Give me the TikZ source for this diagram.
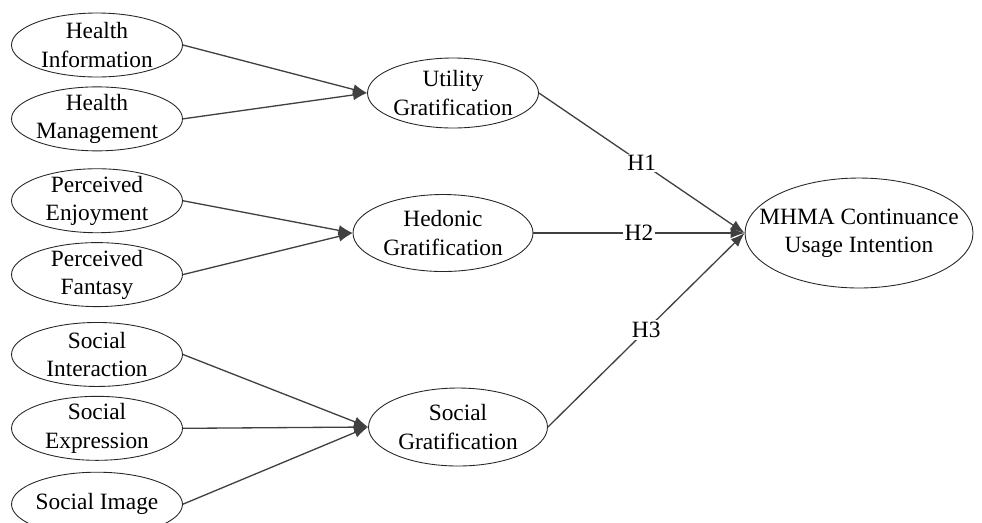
\documentclass[tikz,border=0pt]{standalone}
\usepackage{fontspec}
\setmainfont{Liberation Serif}
\usetikzlibrary{positioning,shapes.geometric,arrows.meta}

\begin{document}
\begin{tikzpicture}[
  x=0.02cm, y=-0.02cm,
  node distance=0.18cm,
  ell/.style={draw=black!85,line width=0.5pt,ellipse,inner sep=-1cm,align=center,
    font=\fontsize{13.3}{16}\selectfont},
  src/.style={ell,minimum width=3.42cm,minimum height=1.28cm},
  grat/.style={ell,minimum width=3.5cm,minimum height=1.45cm},
  arr/.style={draw=black!75,line width=0.75pt,-{Latex[length=8pt,width=6pt]}},
  hyp/.style={fill=white,inner sep=1pt,font=\fontsize{13.3}{16}\selectfont}
]
\useasboundingbox (0,0) rectangle (982,522);

% antecedents
\node[src] (hinfo) at (97,45) {Health\\Information};
\node[src,below=of hinfo] (hmgmt) {Health\\Management};
\node[src,below=0.34cm of hmgmt] (penjoy) {Perceived\\Enjoyment};
\node[src,below=of penjoy] (pfant) {Perceived\\Fantasy};
\node[src,below=0.3cm of pfant] (sinter) {Social\\Interaction};
\node[src,below=of sinter] (sexpr) {Social\\Expression};
\node[src,below=0.22cm of sexpr] (simage) {Social Image};

% gratifications
\node[grat,minimum width=3.42cm,minimum height=1.4cm] (util) at (453,93) {Utility\\Gratification};
\node[grat,minimum width=3.6cm,minimum height=1.54cm] (hedon) at (443,233) {Hedonic\\Gratification};
\node[grat,minimum width=3.58cm,minimum height=1.56cm] (socgr) at (458,427) {Social\\Gratification};

\node[ell,minimum width=4.56cm,minimum height=2.2cm] (mhma) at (859,233) {MHMA Continuance\\Usage Intention};

\path
% into gratifications
(hinfo.east) edge[arr] (util.west) %
(hmgmt.east) edge[arr] (util.west) %
(penjoy.east) edge[arr] (hedon.west) %
(pfant.east) edge[arr] (hedon.west) %
(sinter.east) edge[arr] (socgr.west) %
(sexpr.east) edge[arr] (socgr.west) %
(simage.east) edge[arr] (socgr.west) %

% hypotheses
(util.east) edge[arr] node[hyp] {H1} (mhma.west) %
(hedon.east) edge[arr] node[hyp] {H2} (mhma.west) %
(socgr.east) edge[arr] node[hyp] {H3} (mhma.west) %
;

\end{tikzpicture}
\end{document}
